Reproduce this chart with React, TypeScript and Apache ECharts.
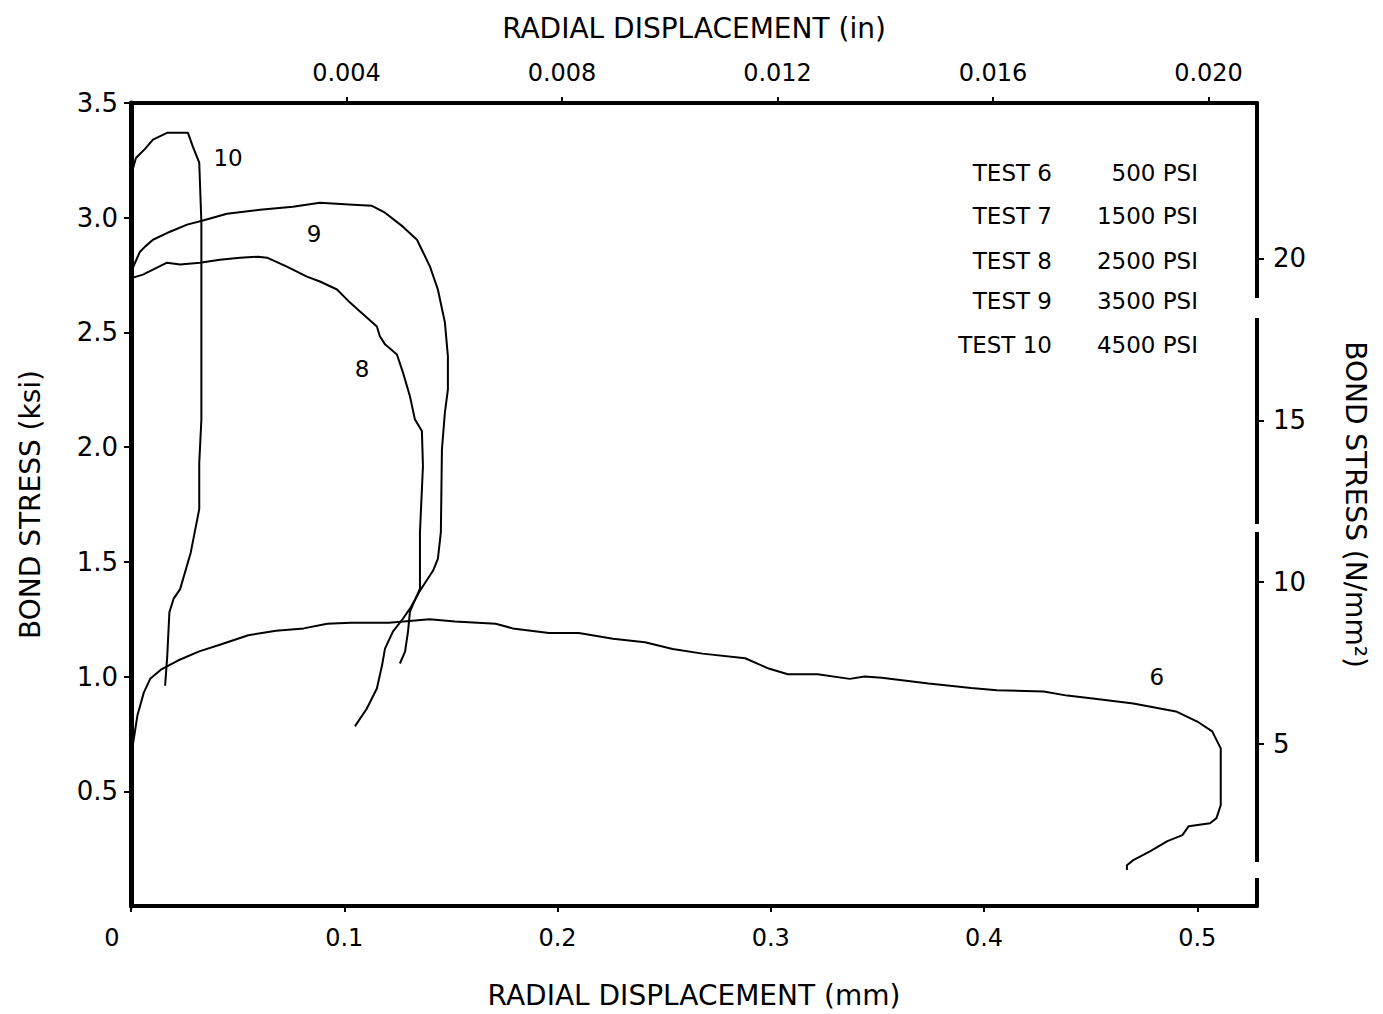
import React, { useEffect, useRef } from "react";
import * as echarts from "echarts";

// Radial displacement (mm) vs bond stress (ksi)
const test6: number[][] = [
  [0.001, 0.71], [0.003, 0.83], [0.006, 0.93], [0.009, 0.99], [0.014, 1.03], [0.022, 1.07],
  [0.032, 1.11], [0.042, 1.14], [0.055, 1.18], [0.068, 1.2], [0.081, 1.21], [0.092, 1.23],
  [0.103, 1.235], [0.121, 1.235], [0.14, 1.25], [0.152, 1.24], [0.171, 1.23], [0.179, 1.21],
  [0.196, 1.19], [0.21, 1.19], [0.226, 1.165], [0.241, 1.15], [0.254, 1.12], [0.268, 1.1],
  [0.288, 1.08], [0.299, 1.035], [0.308, 1.01], [0.322, 1.01], [0.337, 0.99], [0.344, 1.0],
  [0.352, 0.995], [0.374, 0.97], [0.394, 0.95], [0.406, 0.94], [0.428, 0.935], [0.439, 0.917],
  [0.451, 0.904], [0.47, 0.883], [0.49, 0.848], [0.5, 0.804], [0.507, 0.761], [0.511, 0.687],
  [0.511, 0.5], [0.511, 0.44], [0.509, 0.383], [0.506, 0.361], [0.496, 0.348], [0.493, 0.309],
  [0.486, 0.283], [0.478, 0.239], [0.47, 0.2], [0.467, 0.178], [0.467, 0.157],
];

const test8: number[][] = [
  [0.0009, 2.739], [0.0056, 2.752], [0.0103, 2.774], [0.0169, 2.804], [0.023, 2.796],
  [0.0323, 2.804], [0.0417, 2.817], [0.0511, 2.826], [0.0595, 2.83], [0.0638, 2.826],
  [0.0731, 2.787], [0.0825, 2.743], [0.0886, 2.722], [0.0966, 2.687], [0.1027, 2.63],
  [0.1074, 2.591], [0.1153, 2.526], [0.1167, 2.483], [0.1191, 2.448], [0.1247, 2.404],
  [0.1275, 2.326], [0.1308, 2.222], [0.1331, 2.122], [0.1364, 2.07], [0.1369, 1.917],
  [0.1355, 1.63], [0.1355, 1.383], [0.1308, 1.283], [0.1299, 1.196], [0.1285, 1.109],
  [0.1261, 1.057],
];

const test9: number[][] = [
  [0.0009, 2.783], [0.0042, 2.852], [0.0066, 2.874], [0.0103, 2.904], [0.0183, 2.939],
  [0.0263, 2.97], [0.0333, 2.987], [0.045, 3.017], [0.0605, 3.035], [0.0759, 3.048],
  [0.0886, 3.065], [0.1041, 3.057], [0.113, 3.052], [0.1191, 3.022], [0.1275, 2.961],
  [0.1341, 2.904], [0.1402, 2.787], [0.1439, 2.687], [0.1472, 2.543], [0.1486, 2.396],
  [0.1486, 2.252], [0.1472, 2.152], [0.1458, 1.991], [0.1453, 1.63], [0.1439, 1.513],
  [0.1416, 1.461], [0.1355, 1.374], [0.1308, 1.296], [0.1275, 1.252], [0.1228, 1.196],
  [0.1191, 1.122], [0.1177, 1.048], [0.1153, 0.948], [0.1106, 0.861], [0.105, 0.783],
];

const test10: number[][] = [
  [0.0005, 3.2], [0.0023, 3.26], [0.0066, 3.3], [0.0103, 3.34], [0.0169, 3.37], [0.0216, 3.37],
  [0.0267, 3.37], [0.029, 3.31], [0.032, 3.24], [0.033, 2.98], [0.033, 2.54], [0.033, 2.12],
  [0.032, 1.93], [0.032, 1.73], [0.028, 1.54], [0.023, 1.38], [0.02, 1.34], [0.018, 1.28],
  [0.017, 1.09], [0.016, 0.96],
];

// Curve tags: [x mm, y ksi, label]
const curveTags: (number | string)[][] = [
  [0.0455, 3.26, "10"],
  [0.0858, 2.93, "9"],
  [0.1083, 2.34, "8"],
  [0.481, 1.0, "6"],
];

const legendTests = ["TEST 6", "TEST 7", "TEST 8", "TEST 9", "TEST 10"];
const legendPressures = ["500 PSI", "1500 PSI", "2500 PSI", "3500 PSI", "4500 PSI"];

const FONT = "DejaVu Sans";
const INK = "#000";

export default function App() {
  const ref = useRef<HTMLDivElement>(null);

  useEffect(() => {
    const chart = echarts.init(ref.current!, null, { renderer: "svg" });
    const labelBase = { color: INK, fontFamily: FONT };
    const mkLine = (data: number[][]) => ({
      type: "line",
      data,
      xAxisIndex: 0,
      yAxisIndex: 0,
      showSymbol: false,
      symbol: "none",
      lineStyle: { color: INK, width: 2 },
      z: 5,
    });
    const legendRowsY = [173, 216, 261, 301, 345];
    const graphics: any[] = [];
    legendTests.forEach((t, i) => {
      graphics.push({
        type: "text",
        x: 1052,
        y: legendRowsY[i],
        style: { text: t, fill: INK, font: `23px ${FONT}`, textAlign: "right", textVerticalAlign: "middle" },
      });
      graphics.push({
        type: "text",
        x: 1198,
        y: legendRowsY[i],
        style: { text: legendPressures[i], fill: INK, font: `23px ${FONT}`, textAlign: "right", textVerticalAlign: "middle" },
      });
    });
    // breaks in the right-hand frame line
    [[298, 318], [524, 532], [862, 878]].forEach(([a, b]) => {
      graphics.push({
        type: "rect",
        shape: { x: 1250, y: a, width: 14, height: b - a },
        style: { fill: "#fff" },
        z: 100,
      });
    });

    chart.setOption({
      animation: false,
      backgroundColor: "#fff",
      grid: { left: 131, right: 126, top: 103, bottom: 106, containLabel: false },
      xAxis: [
        {
          type: "value",
          position: "bottom",
          min: 0,
          max: 0.528,
          interval: 0.1,
          name: "RADIAL DISPLACEMENT (mm)",
          nameLocation: "middle",
          nameGap: 75,
          nameTextStyle: { ...labelBase, fontSize: 28 },
          axisLine: { show: true, onZero: false, lineStyle: { color: INK, width: 4 } },
          axisTick: { show: true, length: 6, lineStyle: { color: INK, width: 2 } },
          axisLabel: {
            ...labelBase,
            fontSize: 24,
            margin: 20,
            showMaxLabel: false,
            formatter: (v: number) => (Math.abs(v) < 1e-9 ? "{z|0}" : v.toFixed(1)),
            rich: { z: { fontSize: 24, fontFamily: FONT, color: INK, padding: [0, 38, 0, 0] } },
          },
          splitLine: { show: false },
        },
        {
          type: "value",
          position: "top",
          min: 0,
          max: 0.0209,
          interval: 0.004,
          name: "RADIAL DISPLACEMENT (in)",
          nameLocation: "middle",
          nameGap: 61,
          nameTextStyle: { ...labelBase, fontSize: 28 },
          axisLine: { show: true, onZero: false, lineStyle: { color: INK, width: 4 } },
          axisTick: { show: true, length: 6, lineStyle: { color: INK, width: 2 } },
          axisLabel: {
            ...labelBase,
            fontSize: 24,
            margin: 18,
            showMinLabel: false,
            showMaxLabel: false,
            formatter: (v: number) => v.toFixed(3),
          },
          splitLine: { show: false },
        },
      ],
      yAxis: [
        {
          type: "value",
          position: "left",
          min: 0,
          max: 3.5,
          interval: 0.5,
          name: "BOND STRESS (ksi)",
          nameLocation: "middle",
          nameGap: 87,
          nameTextStyle: { ...labelBase, fontSize: 28 },
          axisLine: { show: true, onZero: false, lineStyle: { color: INK, width: 5 } },
          axisTick: { show: true, length: 7, lineStyle: { color: INK, width: 2 } },
          axisLabel: {
            ...labelBase,
            fontSize: 26,
            margin: 13,
            showMinLabel: false,
            formatter: (v: number) => v.toFixed(1),
          },
          splitLine: { show: false },
        },
        {
          type: "value",
          position: "right",
          min: 0,
          max: 24.8,
          interval: 5,
          name: "BOND STRESS (N/mm²)",
          nameLocation: "middle",
          nameGap: 84,
          nameRotate: -90,
          nameTextStyle: { ...labelBase, fontSize: 28 },
          axisLine: { show: true, onZero: false, lineStyle: { color: INK, width: 4 } },
          axisTick: { show: true, length: 7, lineStyle: { color: INK, width: 2 } },
          axisLabel: {
            ...labelBase,
            fontSize: 26,
            margin: 16,
            showMinLabel: false,
            showMaxLabel: false,
            formatter: (v: number) => String(Math.round(v)),
          },
          splitLine: { show: false },
        },
      ],
      series: [
        mkLine(test6),
        mkLine(test8),
        mkLine(test9),
        mkLine(test10),
        {
          type: "scatter",
          data: curveTags,
          xAxisIndex: 0,
          yAxisIndex: 0,
          symbolSize: 0,
          itemStyle: { color: INK, opacity: 1 },
          label: {
            show: true,
            position: "inside",
            formatter: (p: any) => p.value[2],
            fontSize: 23,
            fontFamily: FONT,
            color: INK,
            opacity: 1,
            textBorderWidth: 0,
          },
          emphasis: { disabled: true },
          z: 6,
        },
      ],
      graphic: graphics,
    });
    return () => chart.dispose();
  }, []);

  return (
    <div
      ref={ref}
      style={{ position: "fixed", left: 0, top: 0, width: 1383, height: 1014, background: "#fff" }}
    />
  );
}
